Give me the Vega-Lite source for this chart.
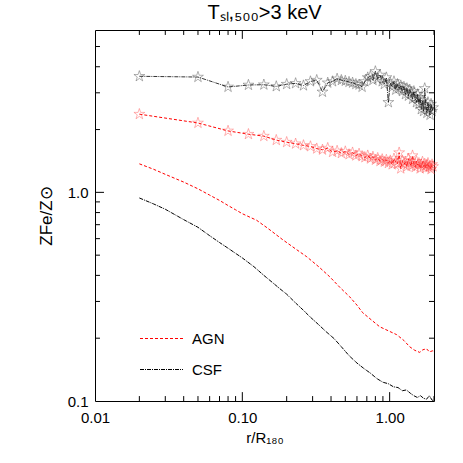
{
  "$schema": "https://vega.github.io/schema/vega-lite/v6.json",
  "width": 339,
  "height": 371,
  "autosize": "none",
  "padding": {"left": 95, "top": 30, "right": 29, "bottom": 62},
  "background": "white",
  "config": {
    "font": "Liberation Sans",
    "view": {"stroke": "black", "strokeWidth": 1},
    "axis": {"domain": false, "grid": false, "ticks": false, "tickSize": 0, "labelColor": "black", "titleColor": "black", "labelFont": "Liberation Sans", "titleFont": "Liberation Sans", "labelFontSize": 15, "titleFontSize": 15, "titleFontWeight": "normal"}
  },
  "title": {"text": "Tₛₗ,₅₀₀>3 keV", "fontSize": 20, "fontWeight": "normal", "font": "Liberation Sans", "offset": 7, "anchor": "middle", "color": "black"},
  "datasets": {
    "xticks": [{"v": 0.01}, {"v": 0.02}, {"v": 0.03}, {"v": 0.04}, {"v": 0.05}, {"v": 0.06}, {"v": 0.07}, {"v": 0.08}, {"v": 0.09}, {"v": 0.1}, {"v": 0.2}, {"v": 0.3}, {"v": 0.4}, {"v": 0.5}, {"v": 0.6}, {"v": 0.7}, {"v": 0.8}, {"v": 0.9}, {"v": 1}, {"v": 2}],
    "yticks": [{"v": 0.1}, {"v": 0.2}, {"v": 0.3}, {"v": 0.4}, {"v": 0.5}, {"v": 0.6}, {"v": 0.7}, {"v": 0.8}, {"v": 0.9}, {"v": 1}, {"v": 2}, {"v": 3}, {"v": 4}, {"v": 5}],
    "profiles": [
      {"r": 0.020, "z": 0.94, "model": "CSF"}, {"r": 0.025, "z": 0.88, "model": "CSF"}, {"r": 0.030, "z": 0.83, "model": "CSF"}, {"r": 0.040, "z": 0.74, "model": "CSF"}, {"r": 0.050, "z": 0.68, "model": "CSF"}, {"r": 0.060, "z": 0.62, "model": "CSF"}, {"r": 0.070, "z": 0.575, "model": "CSF"}, {"r": 0.080, "z": 0.54, "model": "CSF"}, {"r": 0.090, "z": 0.51, "model": "CSF"}, {"r": 0.100, "z": 0.485, "model": "CSF"}, {"r": 0.120, "z": 0.44, "model": "CSF"}, {"r": 0.140, "z": 0.40, "model": "CSF"}, {"r": 0.160, "z": 0.37, "model": "CSF"}, {"r": 0.180, "z": 0.345, "model": "CSF"}, {"r": 0.200, "z": 0.325, "model": "CSF"}, {"r": 0.230, "z": 0.295, "model": "CSF"}, {"r": 0.260, "z": 0.272, "model": "CSF"}, {"r": 0.290, "z": 0.252, "model": "CSF"}, {"r": 0.330, "z": 0.232, "model": "CSF"}, {"r": 0.370, "z": 0.215, "model": "CSF"}, {"r": 0.420, "z": 0.199, "model": "CSF"}, {"r": 0.470, "z": 0.182, "model": "CSF"}, {"r": 0.530, "z": 0.165, "model": "CSF"}, {"r": 0.600, "z": 0.152, "model": "CSF"}, {"r": 0.670, "z": 0.143, "model": "CSF"}, {"r": 0.740, "z": 0.136, "model": "CSF"}, {"r": 0.820, "z": 0.128, "model": "CSF"}, {"r": 0.900, "z": 0.123, "model": "CSF"}, {"r": 0.980, "z": 0.121, "model": "CSF"}, {"r": 1.06, "z": 0.117, "model": "CSF"}, {"r": 1.14, "z": 0.116, "model": "CSF"}, {"r": 1.22, "z": 0.112, "model": "CSF"}, {"r": 1.30, "z": 0.113, "model": "CSF"}, {"r": 1.38, "z": 0.109, "model": "CSF"}, {"r": 1.46, "z": 0.106, "model": "CSF"}, {"r": 1.54, "z": 0.104, "model": "CSF"}, {"r": 1.62, "z": 0.106, "model": "CSF"}, {"r": 1.70, "z": 0.103, "model": "CSF"}, {"r": 1.78, "z": 0.102, "model": "CSF"}, {"r": 1.86, "z": 0.106, "model": "CSF"}, {"r": 1.94, "z": 0.101, "model": "CSF"}, {"r": 2.00, "z": 0.100, "model": "CSF"},
      {"r": 0.020, "z": 1.37, "model": "AGN"}, {"r": 0.025, "z": 1.29, "model": "AGN"}, {"r": 0.030, "z": 1.22, "model": "AGN"}, {"r": 0.040, "z": 1.12, "model": "AGN"}, {"r": 0.050, "z": 1.04, "model": "AGN"}, {"r": 0.060, "z": 0.97, "model": "AGN"}, {"r": 0.070, "z": 0.915, "model": "AGN"}, {"r": 0.080, "z": 0.865, "model": "AGN"}, {"r": 0.090, "z": 0.825, "model": "AGN"}, {"r": 0.100, "z": 0.79, "model": "AGN"}, {"r": 0.125, "z": 0.735, "model": "AGN"}, {"r": 0.150, "z": 0.67, "model": "AGN"}, {"r": 0.188, "z": 0.593, "model": "AGN"}, {"r": 0.234, "z": 0.531, "model": "AGN"}, {"r": 0.274, "z": 0.491, "model": "AGN"}, {"r": 0.330, "z": 0.44, "model": "AGN"}, {"r": 0.392, "z": 0.394, "model": "AGN"}, {"r": 0.460, "z": 0.35, "model": "AGN"}, {"r": 0.535, "z": 0.316, "model": "AGN"}, {"r": 0.600, "z": 0.288, "model": "AGN"}, {"r": 0.656, "z": 0.265, "model": "AGN"}, {"r": 0.750, "z": 0.245, "model": "AGN"}, {"r": 0.855, "z": 0.227, "model": "AGN"}, {"r": 0.98, "z": 0.217, "model": "AGN"}, {"r": 1.115, "z": 0.208, "model": "AGN"}, {"r": 1.25, "z": 0.195, "model": "AGN"}, {"r": 1.367, "z": 0.182, "model": "AGN"}, {"r": 1.48, "z": 0.175, "model": "AGN"}, {"r": 1.60, "z": 0.171, "model": "AGN"}, {"r": 1.68, "z": 0.176, "model": "AGN"}, {"r": 1.78, "z": 0.178, "model": "AGN"}, {"r": 1.86, "z": 0.172, "model": "AGN"}, {"r": 1.96, "z": 0.174, "model": "AGN"}, {"r": 2.00, "z": 0.173, "model": "AGN"}
    ],
    "stars": [
      {"r": 0.02, "z": 3.60, "model": "CSF"}, {"r": 0.05, "z": 3.57, "model": "CSF"}, {"r": 0.08, "z": 3.20, "model": "CSF"}, {"r": 0.11, "z": 3.27, "model": "CSF"}, {"r": 0.14, "z": 3.28, "model": "CSF"}, {"r": 0.17, "z": 3.22, "model": "CSF"}, {"r": 0.20, "z": 3.30, "model": "CSF"}, {"r": 0.23, "z": 3.33, "model": "CSF"}, {"r": 0.26, "z": 3.25, "model": "CSF"}, {"r": 0.29, "z": 3.40, "model": "CSF"}, {"r": 0.32, "z": 3.45, "model": "CSF"}, {"r": 0.35, "z": 3.03, "model": "CSF"}, {"r": 0.38, "z": 3.35, "model": "CSF"}, {"r": 0.41, "z": 3.40, "model": "CSF"}, {"r": 0.44, "z": 3.50, "model": "CSF"}, {"r": 0.47, "z": 3.45, "model": "CSF"}, {"r": 0.50, "z": 3.42, "model": "CSF"}, {"r": 0.53, "z": 3.38, "model": "CSF"}, {"r": 0.56, "z": 3.35, "model": "CSF"}, {"r": 0.59, "z": 3.30, "model": "CSF"}, {"r": 0.62, "z": 3.28, "model": "CSF"}, {"r": 0.65, "z": 3.20, "model": "CSF"}, {"r": 0.68, "z": 3.40, "model": "CSF"}, {"r": 0.71, "z": 3.55, "model": "CSF"}, {"r": 0.74, "z": 3.60, "model": "CSF"}, {"r": 0.77, "z": 3.45, "model": "CSF"}, {"r": 0.80, "z": 3.80, "model": "CSF"}, {"r": 0.83, "z": 3.50, "model": "CSF"}, {"r": 0.86, "z": 3.65, "model": "CSF"}, {"r": 0.89, "z": 3.40, "model": "CSF"}, {"r": 0.92, "z": 3.30, "model": "CSF"}, {"r": 0.95, "z": 3.55, "model": "CSF"}, {"r": 0.98, "z": 2.70, "model": "CSF"}, {"r": 1.01, "z": 3.35, "model": "CSF"}, {"r": 1.04, "z": 3.20, "model": "CSF"}, {"r": 1.07, "z": 3.40, "model": "CSF"}, {"r": 1.10, "z": 3.10, "model": "CSF"}, {"r": 1.13, "z": 3.30, "model": "CSF"}, {"r": 1.16, "z": 3.15, "model": "CSF"}, {"r": 1.19, "z": 3.25, "model": "CSF"}, {"r": 1.22, "z": 3.05, "model": "CSF"}, {"r": 1.25, "z": 3.20, "model": "CSF"}, {"r": 1.28, "z": 2.95, "model": "CSF"}, {"r": 1.31, "z": 3.15, "model": "CSF"}, {"r": 1.34, "z": 2.90, "model": "CSF"}, {"r": 1.37, "z": 3.10, "model": "CSF"}, {"r": 1.40, "z": 3.00, "model": "CSF"}, {"r": 1.43, "z": 2.80, "model": "CSF"}, {"r": 1.46, "z": 3.05, "model": "CSF"}, {"r": 1.49, "z": 2.85, "model": "CSF"}, {"r": 1.52, "z": 2.70, "model": "CSF"}, {"r": 1.55, "z": 2.95, "model": "CSF"}, {"r": 1.58, "z": 2.65, "model": "CSF"}, {"r": 1.61, "z": 2.85, "model": "CSF"}, {"r": 1.64, "z": 2.50, "model": "CSF"}, {"r": 1.67, "z": 2.75, "model": "CSF"}, {"r": 1.70, "z": 2.45, "model": "CSF"}, {"r": 1.73, "z": 3.15, "model": "CSF"}, {"r": 1.76, "z": 2.60, "model": "CSF"}, {"r": 1.79, "z": 2.40, "model": "CSF"}, {"r": 1.82, "z": 2.70, "model": "CSF"}, {"r": 1.85, "z": 2.50, "model": "CSF"}, {"r": 1.88, "z": 2.35, "model": "CSF"}, {"r": 1.91, "z": 2.65, "model": "CSF"}, {"r": 1.94, "z": 2.45, "model": "CSF"}, {"r": 1.97, "z": 2.55, "model": "CSF"},
      {"r": 0.02, "z": 2.37, "model": "AGN"}, {"r": 0.05, "z": 2.15, "model": "AGN"}, {"r": 0.08, "z": 1.97, "model": "AGN"}, {"r": 0.11, "z": 1.90, "model": "AGN"}, {"r": 0.14, "z": 1.86, "model": "AGN"}, {"r": 0.17, "z": 1.78, "model": "AGN"}, {"r": 0.20, "z": 1.74, "model": "AGN"}, {"r": 0.23, "z": 1.71, "model": "AGN"}, {"r": 0.26, "z": 1.68, "model": "AGN"}, {"r": 0.29, "z": 1.66, "model": "AGN"}, {"r": 0.32, "z": 1.62, "model": "AGN"}, {"r": 0.35, "z": 1.60, "model": "AGN"}, {"r": 0.38, "z": 1.63, "model": "AGN"}, {"r": 0.41, "z": 1.56, "model": "AGN"}, {"r": 0.44, "z": 1.58, "model": "AGN"}, {"r": 0.47, "z": 1.54, "model": "AGN"}, {"r": 0.50, "z": 1.57, "model": "AGN"}, {"r": 0.53, "z": 1.52, "model": "AGN"}, {"r": 0.56, "z": 1.55, "model": "AGN"}, {"r": 0.59, "z": 1.50, "model": "AGN"}, {"r": 0.62, "z": 1.53, "model": "AGN"}, {"r": 0.65, "z": 1.49, "model": "AGN"}, {"r": 0.68, "z": 1.47, "model": "AGN"}, {"r": 0.71, "z": 1.50, "model": "AGN"}, {"r": 0.74, "z": 1.45, "model": "AGN"}, {"r": 0.77, "z": 1.48, "model": "AGN"}, {"r": 0.80, "z": 1.43, "model": "AGN"}, {"r": 0.83, "z": 1.46, "model": "AGN"}, {"r": 0.86, "z": 1.41, "model": "AGN"}, {"r": 0.89, "z": 1.44, "model": "AGN"}, {"r": 0.92, "z": 1.40, "model": "AGN"}, {"r": 0.95, "z": 1.43, "model": "AGN"}, {"r": 0.98, "z": 1.38, "model": "AGN"}, {"r": 1.01, "z": 1.42, "model": "AGN"}, {"r": 1.04, "z": 1.36, "model": "AGN"}, {"r": 1.07, "z": 1.45, "model": "AGN"}, {"r": 1.10, "z": 1.40, "model": "AGN"}, {"r": 1.13, "z": 1.37, "model": "AGN"}, {"r": 1.16, "z": 1.55, "model": "AGN"}, {"r": 1.19, "z": 1.30, "model": "AGN"}, {"r": 1.22, "z": 1.42, "model": "AGN"}, {"r": 1.25, "z": 1.36, "model": "AGN"}, {"r": 1.28, "z": 1.40, "model": "AGN"}, {"r": 1.31, "z": 1.33, "model": "AGN"}, {"r": 1.34, "z": 1.45, "model": "AGN"}, {"r": 1.37, "z": 1.38, "model": "AGN"}, {"r": 1.40, "z": 1.34, "model": "AGN"}, {"r": 1.43, "z": 1.50, "model": "AGN"}, {"r": 1.46, "z": 1.37, "model": "AGN"}, {"r": 1.49, "z": 1.32, "model": "AGN"}, {"r": 1.52, "z": 1.41, "model": "AGN"}, {"r": 1.55, "z": 1.35, "model": "AGN"}, {"r": 1.58, "z": 1.38, "model": "AGN"}, {"r": 1.61, "z": 1.30, "model": "AGN"}, {"r": 1.64, "z": 1.36, "model": "AGN"}, {"r": 1.67, "z": 1.40, "model": "AGN"}, {"r": 1.70, "z": 1.33, "model": "AGN"}, {"r": 1.73, "z": 1.37, "model": "AGN"}, {"r": 1.76, "z": 1.31, "model": "AGN"}, {"r": 1.79, "z": 1.35, "model": "AGN"}, {"r": 1.82, "z": 1.38, "model": "AGN"}, {"r": 1.85, "z": 1.32, "model": "AGN"}, {"r": 1.88, "z": 1.34, "model": "AGN"}, {"r": 1.91, "z": 1.29, "model": "AGN"}, {"r": 1.94, "z": 1.36, "model": "AGN"}, {"r": 1.97, "z": 1.33, "model": "AGN"}
    ]
  },
  "layer": [
    {
      "data": {"name": "profiles"},
      "mark": {"type": "line", "strokeWidth": 1, "clip": true},
      "encoding": {
        "x": {"field": "r", "type": "quantitative", "scale": {"type": "log", "domain": [0.01, 2.0], "nice": false},
          "axis": {"orient": "bottom", "title": "r/R₁₈₀", "titlePadding": 5,
            "values": [0.01, 0.1, 1],
            "labelExpr": "datum.value == 0.01 ? '0.01' : (datum.value == 0.1 ? '0.10' : '1.00')",
            "labelPadding": 9, "labelFlush": false, "labelOverlap": false}},
        "y": {"field": "z", "type": "quantitative", "scale": {"type": "log", "domain": [0.1, 6.0], "nice": false},
          "axis": {"orient": "left", "title": "ZFe/Z⊙", "titleFontSize": 17, "titlePadding": 12,
            "values": [0.1, 1],
            "labelExpr": "datum.value == 0.1 ? '0.1' : '1.0'",
            "labelPadding": 7, "labelFlush": false, "labelOverlap": false}},
        "color": {"field": "model", "type": "nominal", "scale": {"domain": ["AGN", "CSF"], "range": ["#ff0000", "#000000"]},
          "legend": {"orient": "none", "legendX": 44, "legendY": 286, "title": null, "symbolType": "stroke", "symbolSize": 1850, "symbolStrokeWidth": 1.2, "labelFontSize": 15, "labelFont": "Liberation Sans", "labelColor": "black", "labelOffset": 8, "rowPadding": -12, "padding": 0}},
        "strokeDash": {"field": "model", "type": "nominal", "scale": {"domain": ["AGN", "CSF"], "range": [[3, 2], [4, 1, 1, 1]]}}
      }
    },
    {
      "data": {"name": "stars"},
      "transform": [{"filter": "datum.model == 'CSF'"}],
      "mark": {"type": "line", "color": "black", "strokeWidth": 0.8, "strokeDash": [4, 1, 1, 1]},
      "encoding": {"x": {"field": "r", "type": "quantitative", "axis": null}, "y": {"field": "z", "type": "quantitative", "axis": null}}
    },
    {
      "data": {"name": "stars"},
      "transform": [{"filter": "datum.model == 'AGN'"}],
      "mark": {"type": "line", "color": "#ff0000", "strokeWidth": 1, "strokeDash": [3, 2]},
      "encoding": {"x": {"field": "r", "type": "quantitative", "axis": null}, "y": {"field": "z", "type": "quantitative", "axis": null}}
    },
    {
      "data": {"name": "stars"},
      "transform": [{"filter": "datum.model == 'CSF'"}],
      "mark": {"type": "point", "shape": "M0,-1L0.225,-0.309L0.951,-0.309L0.363,0.118L0.588,0.809L0,0.382L-0.588,0.809L-0.363,0.118L-0.951,-0.309L-0.225,-0.309Z", "filled": false, "size": 130, "stroke": "#222222", "strokeWidth": 0.5},
      "encoding": {"x": {"field": "r", "type": "quantitative", "axis": null}, "y": {"field": "z", "type": "quantitative", "axis": null}}
    },
    {
      "data": {"name": "stars"},
      "transform": [{"filter": "datum.model == 'AGN'"}],
      "mark": {"type": "point", "shape": "M0,-1L0.225,-0.309L0.951,-0.309L0.363,0.118L0.588,0.809L0,0.382L-0.588,0.809L-0.363,0.118L-0.951,-0.309L-0.225,-0.309Z", "filled": false, "size": 130, "stroke": "#ff4040", "strokeWidth": 0.5, "opacity": 0.8},
      "encoding": {"x": {"field": "r", "type": "quantitative", "axis": null}, "y": {"field": "z", "type": "quantitative", "axis": null}}
    },
    {
      "data": {"name": "xticks"},
      "transform": [{"filter": "!(datum.v == 0.01 || datum.v == 0.1 || datum.v == 1)"}],
      "mark": {"type": "rule", "color": "black", "strokeWidth": 1},
      "encoding": {"x": {"field": "v", "type": "quantitative", "axis": null}, "y": {"datum": 0.1, "axis": null}, "y2": {"datum": 0.1056}}
    },
    {
      "data": {"name": "xticks"},
      "transform": [{"filter": "datum.v == 0.1 || datum.v == 1"}],
      "mark": {"type": "rule", "color": "black", "strokeWidth": 1},
      "encoding": {"x": {"field": "v", "type": "quantitative", "axis": null}, "y": {"datum": 0.1, "axis": null}, "y2": {"datum": 0.1103}}
    },
    {
      "data": {"name": "xticks"},
      "transform": [{"filter": "!(datum.v == 0.01 || datum.v == 0.1 || datum.v == 1)"}],
      "mark": {"type": "rule", "color": "black", "strokeWidth": 1},
      "encoding": {"x": {"field": "v", "type": "quantitative", "axis": null}, "y": {"datum": 6.0, "axis": null}, "y2": {"datum": 5.68}}
    },
    {
      "data": {"name": "xticks"},
      "transform": [{"filter": "datum.v == 0.1 || datum.v == 1"}],
      "mark": {"type": "rule", "color": "black", "strokeWidth": 1},
      "encoding": {"x": {"field": "v", "type": "quantitative", "axis": null}, "y": {"datum": 6.0, "axis": null}, "y2": {"datum": 5.44}}
    },
    {
      "data": {"name": "yticks"},
      "transform": [{"filter": "!(datum.v == 0.1 || datum.v == 1)"}],
      "mark": {"type": "rule", "color": "black", "strokeWidth": 1},
      "encoding": {"y": {"field": "v", "type": "quantitative", "axis": null}, "x": {"datum": 0.01, "axis": null}, "x2": {"datum": 0.01081}}
    },
    {
      "data": {"name": "yticks"},
      "transform": [{"filter": "datum.v == 1"}],
      "mark": {"type": "rule", "color": "black", "strokeWidth": 1},
      "encoding": {"y": {"field": "v", "type": "quantitative", "axis": null}, "x": {"datum": 0.01, "axis": null}, "x2": {"datum": 0.01151}}
    },
    {
      "data": {"name": "yticks"},
      "transform": [{"filter": "!(datum.v == 0.1 || datum.v == 1)"}],
      "mark": {"type": "rule", "color": "black", "strokeWidth": 1},
      "encoding": {"y": {"field": "v", "type": "quantitative", "axis": null}, "x": {"datum": 2.0, "axis": null}, "x2": {"datum": 1.85}}
    },
    {
      "data": {"name": "yticks"},
      "transform": [{"filter": "datum.v == 1"}],
      "mark": {"type": "rule", "color": "black", "strokeWidth": 1},
      "encoding": {"y": {"field": "v", "type": "quantitative", "axis": null}, "x": {"datum": 2.0, "axis": null}, "x2": {"datum": 1.738}}
    }
  ],
  "resolve": {"axis": {"x": "independent", "y": "independent"}}
}
